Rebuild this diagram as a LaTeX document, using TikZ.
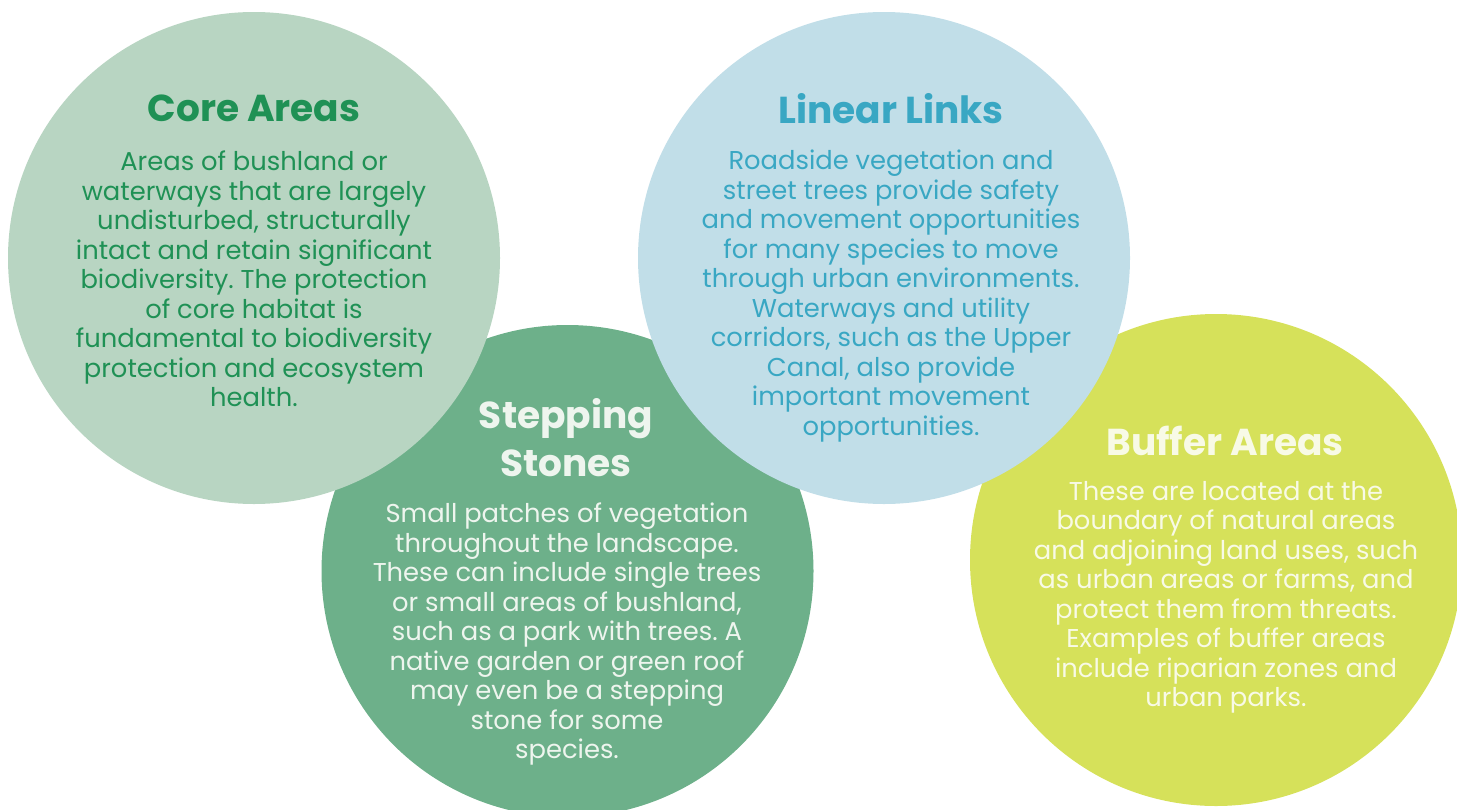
\documentclass[tikz,border=0pt]{standalone}
\usepackage{fontspec}
\setmainfont{Poppins}
\frenchspacing
\definecolor{corefill}{HTML}{B8D5C2}
\definecolor{coretext}{HTML}{1F9155}
\definecolor{stepfill}{HTML}{6DB08A}
\definecolor{steptext}{HTML}{EEF5EE}
\definecolor{linfill}{HTML}{C1DEE8}
\definecolor{lintext}{HTML}{39A7C3}
\definecolor{buffill}{HTML}{D6E15A}
\definecolor{buftext}{HTML}{F8FAE6}
\tikzset{
  disc/.style={circle, minimum size=492pt, inner sep=0pt, draw=none},
  ttl/.style={inner sep=0pt, align=center, anchor=north, font=\fontsize{37.5}{48}\selectfont\bfseries},
  body/.style={inner sep=0pt, align=center, anchor=north, font=\fontsize{25.8}{29.5}\selectfont\frenchspacing},
}
\begin{document}
\begin{tikzpicture}[x=1pt,y=-1pt]
\path[use as bounding box] (0,0) rectangle (1457,809);
\begin{scope}
\clip (0,0) rectangle (1457,809);
\node[disc, fill=stepfill] (stepc) at (567.5,571) {};
\node[disc, fill=buffill] (bufc) at (1216,560) {};
\node[disc, fill=corefill] (corec) at (254,258) {};
\node[disc, fill=linfill] (linc) at (884,258) {};
\end{scope}
\node[ttl, text=coretext] (coret) at (254,95) {Core Areas};
\node[body, text=coretext] (coreb) at (254,151) {Areas of bushland or\\waterways that are largely\\undisturbed, structurally\\intact and retain significant\\biodiversity. The protection\\of core habitat is\\fundamental to biodiversity\\protection and ecosystem\\health.};
\node[ttl, text=lintext] (lint) at (891,93) {Linear Links};
\node[body, text=lintext] (linb) at (891,150) {Roadside vegetation and\\street trees provide safety\\and movement opportunities\\for many species to move\\through urban environments.\\Waterways and utility\\corridors, such as the Upper\\Canal, also provide\\important movement\\opportunities.};
\node[ttl, text=steptext] (stept) at (566,398) {Stepping\\Stones};
\node[body, text=steptext] (stepb) at (567,503) {Small patches of vegetation\\throughout the landscape.\\These can include single trees\\or small areas of bushland,\\such as a park with trees. A\\native garden or green roof\\may even be a stepping\\stone for some\\species.};
\node[ttl, text=buftext] (buft) at (1225,426) {Buffer Areas};
\node[body, text=buftext] (bufb) at (1226,481) {These are located at the\\boundary of natural areas\\and adjoining land uses, such\\as urban areas or farms, and\\protect them from threats.\\Examples of buffer areas\\include riparian zones and\\urban parks.};
\end{tikzpicture}
\end{document}
